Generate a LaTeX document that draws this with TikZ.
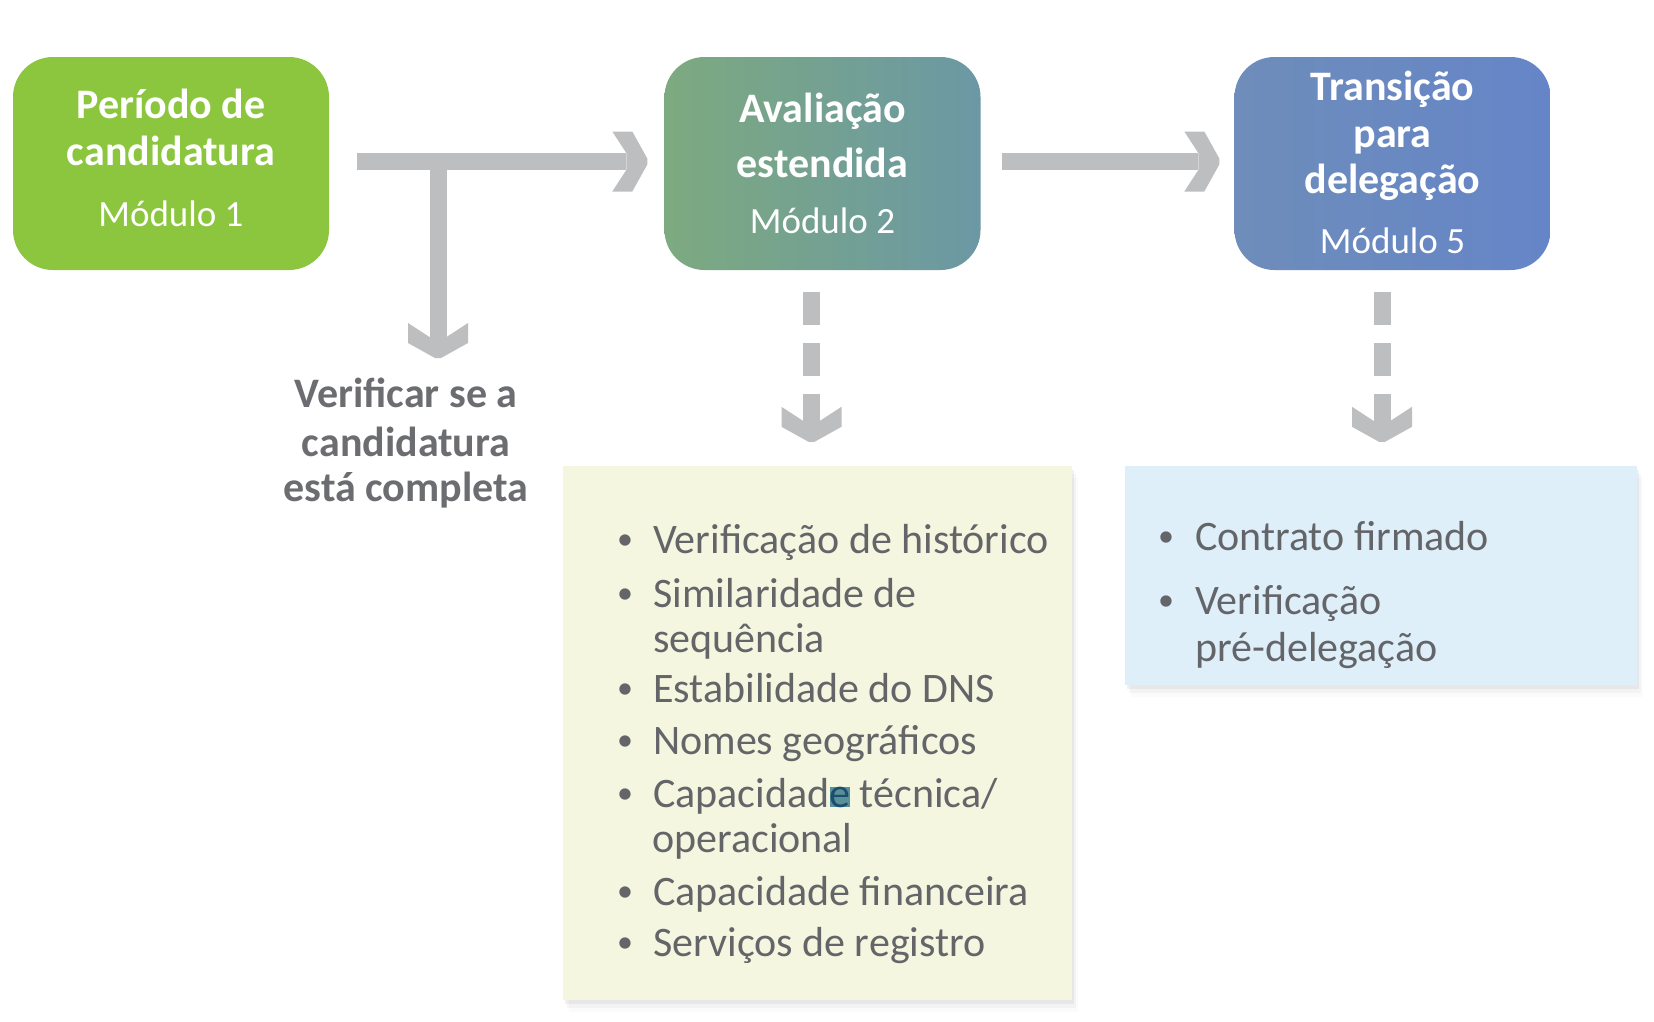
\documentclass[tikz,border=0pt]{standalone}
\usepackage{fontspec}
\setmainfont{Carlito}
\usetikzlibrary{calc,shadows}
\definecolor{gr}{HTML}{8CC63F}
\definecolor{tealL}{HTML}{7DAA7F}
\definecolor{tealR}{HTML}{6B98A4}
\definecolor{blL}{HTML}{6E8DBA}
\definecolor{blR}{HTML}{6585C8}
\definecolor{arr}{HTML}{BDBEC0}
\definecolor{txt}{HTML}{646568}
\definecolor{lab}{HTML}{6C6D70}
\definecolor{ylw}{HTML}{F4F6DF}
\definecolor{lblue}{HTML}{DEEFFA}
\definecolor{hlbg}{HTML}{5A9199}
\definecolor{hlfg}{HTML}{1E4E6E}
\begin{document}
\begin{tikzpicture}[x=1pt,y=-1pt,
  modbox/.style={rounded corners=40pt, minimum width=316pt, minimum height=213pt, inner sep=0pt, draw=none},
  ttl/.style={text=white, font=\fontsize{42}{46}\selectfont\bfseries, anchor=base, inner sep=0pt},
  mdl/.style={text=white, font=\fontsize{37}{40}\selectfont, anchor=base, inner sep=0pt},
  lst/.style={text=txt, font=\fontsize{42}{46}\selectfont, anchor=base west, inner sep=0pt},
  bul/.style={text=txt, font=\fontsize{32}{36}\selectfont, anchor=base, inner sep=0pt, yshift=4pt},
  lbl/.style={text=lab, font=\fontsize{42}{46}\selectfont\bfseries, anchor=base, inner sep=0pt},
  arrfill/.style={fill=arr, draw=none},
  shaft/.style={draw=arr, line width=17pt, line cap=butt},
  infobox/.style={inner sep=0pt, draw=none,
     drop shadow={shadow xshift=2pt, shadow yshift=-4pt, opacity=.10},
     drop shadow={shadow xshift=4pt, shadow yshift=-8pt, opacity=.06},
     drop shadow={shadow xshift=6pt, shadow yshift=-12pt, opacity=.03}},
]
\fill[white] (0,0) rectangle (1654,1021);
\useasboundingbox (0,0) rectangle (1654,1021);

% module boxes
\node[modbox, fill=gr] (b1) at (171,163.5) {};
\node[modbox, left color=tealL, right color=tealR] (b2) at (822.5,163.5) {};
\node[modbox, left color=blL, right color=blR] (b3) at (1392.5,163.5) {};

\node[ttl] (t1a) at (171,118) {Período de};
\node[ttl] (t1b) at (171,165) {candidatura};
\node[mdl] (m1) at (171,226) {Módulo 1};

\node[ttl] (t2a) at (822.5,122) {Avaliação};
\node[ttl] (t2b) at (822.5,177) {estendida};
\node[mdl] (m2) at (822.5,233) {Módulo 2};

\node[ttl] (t3a) at (1392.5,100) {Transição};
\node[ttl] (t3b) at (1392.5,147) {para};
\node[ttl] (t3c) at (1392.5,193) {delegação};
\node[mdl] (m3) at (1392.5,253) {Módulo 5};

% label
\node[lbl] (v1) at (406,407) {Verificar se a};
\node[lbl] (v2) at (406,456) {candidatura};
\node[lbl] (v3) at (406,501) {está completa};

% info boxes
\node[infobox, fill=ylw, minimum width=509pt, minimum height=534pt] (ybox) at (817.5,733) {};
\node[infobox, fill=lblue, minimum width=512pt, minimum height=219pt] (bbox) at (1381,575.5) {};

% yellow list
\node[bul] (yb1) at (625,553) {\textbullet};
\node[lst] (y1) at (653,553) {Verificação de histórico};
\node[bul] (yb2) at (625,607) {\textbullet};
\node[lst] (y2) at (653,607) {Similaridade de};
\node[lst] (y2b) at (653,652) {sequência};
\node[bul] (yb3) at (625,702) {\textbullet};
\node[lst] (y3) at (653,702) {Estabilidade do DNS};
\node[bul] (yb4) at (625,754) {\textbullet};
\node[lst] (y4) at (653,754) {Nomes geográficos};
\node[bul] (yb5) at (625,807) {\textbullet};
\node[lst] (y5) at (653,807) {Capacidad{\setlength{\fboxsep}{0pt}\colorbox{hlbg}{\textcolor{hlfg}{e}}} técnica/};
\node[lst] (y5b) at (652,852) {operacional};
\node[bul] (yb6) at (625,905) {\textbullet};
\node[lst] (y6) at (653,905) {Capacidade financeira};
\node[bul] (yb7) at (625,956) {\textbullet};
\node[lst] (y7) at (653,956) {Serviços de registro};

% blue list
\node[bul] (bb1) at (1166,550) {\textbullet};
\node[lst] (bl1) at (1195,550) {Contrato firmado};
\node[bul] (bb2) at (1166,614) {\textbullet};
\node[lst] (bl2) at (1195,614) {Verificação};
\node[lst] (bl2b) at (1195,661) {pré-delegação};

% arrow 1 (b1 -> b2) with branch to label
\coordinate (a1s) at ($(b1.east)+(28,-2)$);
\coordinate (a1t) at ($(b2.west)+(-17,-2)$);
\draw[shaft] (a1s) -- ($(a1t)+(-21,0)$);
\fill[arrfill, shift={(a1t)}] (0,-3) -- (-15,-30) -- (-35,-30) -- (-21,-8.5) -- (-21,8.5) -- (-35,30) -- (-15,30) -- (0,3) -- cycle;

\coordinate (brs) at (438,153);
\coordinate (brt) at ($(v1.base)+(32,-49)$);
\draw[shaft] (brs) -- ($(brt)+(0,-21)$);
\fill[arrfill, shift={(brt)}] (-3,0) -- (-30,-15) -- (-30,-35) -- (-8.5,-21) -- (8.5,-21) -- (30,-35) -- (30,-15) -- (3,0) -- cycle;

% arrow 2 (b2 -> b3)
\coordinate (a2s) at ($(b2.east)+(21,-2)$);
\coordinate (a2t) at ($(b3.west)+(-15,-2)$);
\draw[shaft] (a2s) -- ($(a2t)+(-21,0)$);
\fill[arrfill, shift={(a2t)}] (0,-3) -- (-15,-30) -- (-35,-30) -- (-21,-8.5) -- (-21,8.5) -- (-35,30) -- (-15,30) -- (0,3) -- cycle;

% dashed arrows
\coordinate (d1s) at ($(b2.south)+(-11,22)$);
\coordinate (d1t) at ($(ybox.north)+(-6,-24)$);
\draw[shaft, dash pattern=on 33pt off 18pt] (d1s) -- ($(d1t)+(0,-21)$);
\fill[arrfill, shift={(d1t)}] (-3,0) -- (-30,-15) -- (-30,-35) -- (-8.5,-21) -- (8.5,-21) -- (30,-35) -- (30,-15) -- (3,0) -- cycle;

\coordinate (d2s) at ($(b3.south)+(-10.5,22)$);
\coordinate (d2t) at ($(bbox.north)+(1,-24)$);
\draw[shaft, dash pattern=on 33pt off 18pt] (d2s) -- ($(d2t)+(0,-21)$);
\fill[arrfill, shift={(d2t)}] (-3,0) -- (-30,-15) -- (-30,-35) -- (-8.5,-21) -- (8.5,-21) -- (30,-35) -- (30,-15) -- (3,0) -- cycle;
\end{tikzpicture}
\end{document}
